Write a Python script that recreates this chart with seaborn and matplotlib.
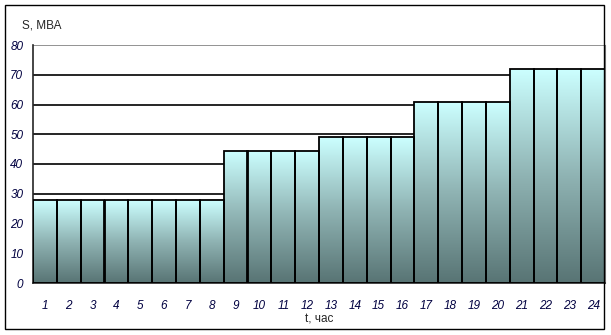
import numpy as np
import pandas as pd
import matplotlib
matplotlib.use("Agg")
import matplotlib.pyplot as plt
import seaborn as sns
from matplotlib.colors import LinearSegmentedColormap
from matplotlib.patches import Rectangle

hours = [str(i) for i in range(1, 25)]
load = [27.8]*8 + [44.4]*4 + [49.0]*4 + [60.8]*4 + [71.8]*4
y_ticks = [0, 10, 20, 30, 40, 50, 60, 70, 80]

df = pd.DataFrame({"hour": hours, "S": load})

sns.set_style("white")
plt.rcParams['font.family'] = ['Liberation Sans', 'DejaVu Sans']

fig = plt.figure(figsize=(6.11, 3.35), dpi=100)
ax = fig.add_axes([33/611, 1-283/335, (605-33)/611, (283-45)/335])

sns.barplot(data=df, x="hour", y="S", ax=ax, width=1.0, color="#ccffff",
            edgecolor="black", linewidth=1.3, zorder=3)

cmap = LinearSegmentedColormap.from_list("g", ["#587474", "#8fb3b3", "#ccffff"])
grad = np.linspace(0, 1, 256).reshape(-1, 1)
for p in list(ax.patches):
    x0, y0 = p.get_x(), p.get_y()
    w, h = p.get_width(), p.get_height()
    im = ax.imshow(grad, cmap=cmap, origin="lower", aspect="auto",
                   extent=[x0, x0 + w, y0, y0 + h], zorder=2.5)
    im.set_clip_path(p)
    p.set_facecolor("none")

ax.set_xlim(-0.5, len(hours) - 0.5)
ax.set_ylim(0, 80)
ax.set_yticks(y_ticks)
for t in y_ticks[1:-1]:
    ax.axhline(t, color="black", lw=1.2, zorder=1)
ax.axhline(80, color="#808080", lw=1.2, zorder=1)

for s in ["top", "right"]:
    ax.spines[s].set_visible(False)
ax.spines["left"].set_linewidth(1.2)
ax.spines["bottom"].set_linewidth(1.2)
ax.spines["right"].set_visible(True)
ax.spines["right"].set_color("#808080")

ax.set_xticks(np.arange(len(hours)))
ax.set_xticklabels(hours)
ax.set_xticks(np.arange(len(hours) + 1) - 0.5, minor=True)
ax.tick_params(axis="x", which="major", length=0, pad=12, labelsize=8.5, labelcolor="#000040")
ax.tick_params(axis="x", which="minor", length=4, width=1.2, direction="out", color="black")
ax.tick_params(axis="y", length=4, width=1.2, direction="out", color="black", pad=3,
               labelsize=8.5, labelcolor="#000040")
for lab in ax.get_xticklabels() + ax.get_yticklabels():
    lab.set_fontstyle("italic")

ax.set_xlabel("t, час", fontsize=8.5, labelpad=1)
ax.set_ylabel("")
fig.text(22/611, 1-25/335, "S, МВА", fontsize=8.5, ha="left", va="center")

fig.patches.append(Rectangle((5/611, 1-329/335), (604-5)/611, (329-5)/335,
                             transform=fig.transFigure, fill=False, edgecolor="black",
                             lw=1.0, zorder=10))

fig.savefig("out.png", dpi=100)
